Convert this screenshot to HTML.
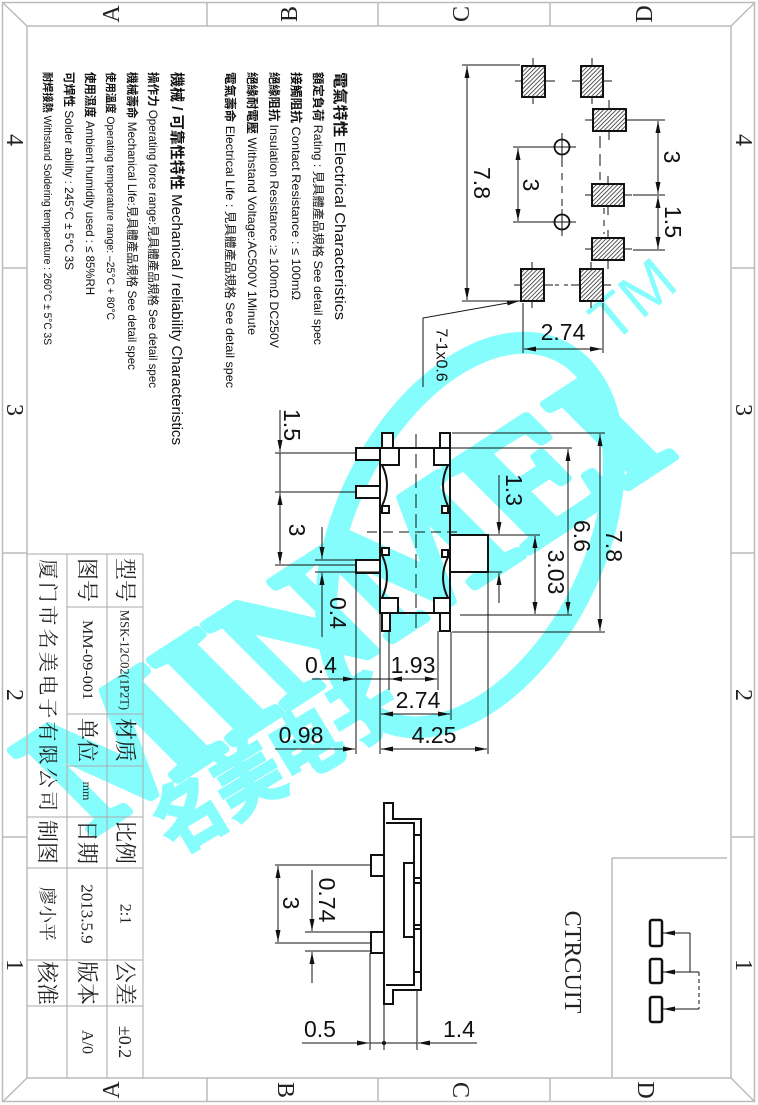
<!DOCTYPE html>
<html><head><meta charset="utf-8"><style>
html,body{margin:0;padding:0;background:#fff}
svg{display:block}
.t{font-family:"Liberation Sans","Noto Sans CJK TC",sans-serif;fill:#111}
.d{font-family:"Liberation Sans",sans-serif;font-size:23px;fill:#111}
.s{font-family:"Liberation Serif","Noto Serif CJK SC",serif;fill:#222}
</style></head><body>
<svg width="758" height="1105" viewBox="0 0 758 1105" xmlns="http://www.w3.org/2000/svg">
<defs>
<marker id="a" viewBox="0 0 12 5" refX="12" refY="2.5" markerWidth="12" markerHeight="5" markerUnits="userSpaceOnUse" orient="auto-start-reverse"><path d="M0,0L12,2.5L0,5z" fill="#111"/></marker>
<pattern id="h" width="3" height="3" patternUnits="userSpaceOnUse" patternTransform="rotate(45)"><rect width="3" height="3" fill="#fff"/><line x1="0" y1="0" x2="0" y2="3" stroke="#222" stroke-width="1.5"/></pattern>
</defs>

<!-- watermark -->
<g fill="#86fdfd" stroke="none">
<ellipse cx="470" cy="535" rx="205" ry="125" transform="rotate(-64 470 535)" fill="none" stroke="#86fdfd" stroke-width="22"/>
<text transform="translate(92,835) rotate(-33) skewX(12)" font-family="Liberation Serif,serif" font-weight="bold" font-size="175" textLength="700" lengthAdjust="spacingAndGlyphs" stroke="#86fdfd" stroke-width="9" stroke-linejoin="round">MINMEI</text>
<text transform="translate(175,855) rotate(-31)" font-family="Noto Sans CJK SC,sans-serif" font-weight="bold" font-size="76" textLength="270" lengthAdjust="spacingAndGlyphs" stroke="#86fdfd" stroke-width="3">名美电子</text>
<text transform="translate(612,345) rotate(-40)" font-family="Liberation Sans,sans-serif" font-size="62">TM</text>
</g>

<!-- frame -->
<g fill="none" stroke="#bbb" stroke-width="1.5">
<rect x="2.5" y="2.5" width="752" height="1099"/>
<rect x="27" y="26" width="704" height="1052"/>
<line x1="2.5" y1="2.5" x2="27" y2="26"/><line x1="755" y1="2.5" x2="731" y2="26"/>
<line x1="2.5" y1="1102" x2="27" y2="1078"/><line x1="755" y1="1102" x2="731" y2="1078"/>
<line x1="207" y1="2.5" x2="207" y2="26"/><line x1="378" y1="2.5" x2="378" y2="26"/><line x1="550" y1="2.5" x2="550" y2="26"/>
<line x1="207" y1="1078" x2="207" y2="1102"/><line x1="378" y1="1078" x2="378" y2="1102"/><line x1="550" y1="1078" x2="550" y2="1102"/>
<line x1="2.5" y1="268" x2="27" y2="268"/><line x1="2.5" y1="553" x2="27" y2="553"/><line x1="2.5" y1="837" x2="27" y2="837"/>
<line x1="731" y1="268" x2="755" y2="268"/><line x1="731" y1="553" x2="755" y2="553"/><line x1="731" y1="837" x2="755" y2="837"/>
</g>
<g class="s" font-size="24" text-anchor="middle" dominant-baseline="central">
<text transform="translate(112,14) rotate(-90)">A</text>
<text transform="translate(290,14) rotate(-90)">B</text>
<text transform="translate(462,14) rotate(-90)">C</text>
<text transform="translate(645,14) rotate(-90)">D</text>
<text transform="translate(112,1090) rotate(-90)">A</text>
<text transform="translate(285,1090) rotate(90)">B</text>
<text transform="translate(460,1090) rotate(90)">C</text>
<text transform="translate(645,1090) rotate(90)">D</text>
<text transform="translate(14,140) rotate(90)">4</text>
<text transform="translate(14,410) rotate(90)">3</text>
<text transform="translate(14,695) rotate(90)">2</text>
<text transform="translate(14,965) rotate(90)">1</text>
<text transform="translate(743,140) rotate(90)">4</text>
<text transform="translate(743,410) rotate(90)">3</text>
<text transform="translate(743,695) rotate(90)">2</text>
<text transform="translate(743,965) rotate(90)">1</text>
</g>

<!-- spec text -->
<g class="t">
<text transform="translate(335,72) rotate(90)" font-size="15" textLength="248" lengthAdjust="spacingAndGlyphs"><tspan font-weight="bold">電氣特性</tspan> Electrical Characteristics</text>
<text transform="translate(314,72) rotate(90)" font-size="12" textLength="273" lengthAdjust="spacingAndGlyphs"><tspan font-weight="bold">額定負荷</tspan> Rating : 見具體產品規格 See detail spec</text>
<text transform="translate(292,72) rotate(90)" font-size="12" textLength="228" lengthAdjust="spacingAndGlyphs"><tspan font-weight="bold">接觸阻抗</tspan> Contact Resistance : ≤ 100mΩ</text>
<text transform="translate(270,72) rotate(90)" font-size="12" textLength="276" lengthAdjust="spacingAndGlyphs"><tspan font-weight="bold">絕緣阻抗</tspan> Insulation Resistance :≥ 100mΩ DC250V</text>
<text transform="translate(248,72) rotate(90)" font-size="12" textLength="263" lengthAdjust="spacingAndGlyphs"><tspan font-weight="bold">絕緣耐電壓</tspan> Withstand Voltage:AC500V 1Minute</text>
<text transform="translate(226,72) rotate(90)" font-size="12" textLength="316" lengthAdjust="spacingAndGlyphs"><tspan font-weight="bold">電氣壽命</tspan> Electrical Life : 見具體產品規格 See detail spec</text>
<text transform="translate(172,72) rotate(90)" font-size="15" textLength="373" lengthAdjust="spacingAndGlyphs"><tspan font-weight="bold">機械 / 可靠性特性</tspan> Mechanical / reliability Characteristics</text>
<text transform="translate(149,72) rotate(90)" font-size="12" textLength="316" lengthAdjust="spacingAndGlyphs"><tspan font-weight="bold">操作力</tspan> Operating force range:見具體產品規格 See detail spec</text>
<text transform="translate(128,72) rotate(90)" font-size="12" textLength="298" lengthAdjust="spacingAndGlyphs"><tspan font-weight="bold">機械壽命</tspan> Mechanical Life:見具體產品規格 See detail spec</text>
<text transform="translate(107,72) rotate(90)" font-size="11" textLength="248" lengthAdjust="spacingAndGlyphs"><tspan font-weight="bold">使用溫度</tspan> Operating temperature range: –25°C + 80°C</text>
<text transform="translate(86,72) rotate(90)" font-size="12" textLength="223" lengthAdjust="spacingAndGlyphs"><tspan font-weight="bold">使用濕度</tspan> Ambient humidity used : ≤ 85%RH</text>
<text transform="translate(65,72) rotate(90)" font-size="12" textLength="198" lengthAdjust="spacingAndGlyphs"><tspan font-weight="bold">可焊性</tspan> Solder ability : 245°C ± 5°C 3S</text>
<text transform="translate(44,72) rotate(90)" font-size="11" textLength="273" lengthAdjust="spacingAndGlyphs"><tspan font-weight="bold">耐焊接熱</tspan> Withstand Soldering temperature : 260°C ± 5°C 3S</text>
</g>

<!-- title block -->
<g stroke="#aaa" stroke-width="1" fill="none">
<line x1="143" y1="554" x2="143" y2="1078"/>
<line x1="107" y1="554" x2="107" y2="1078"/>
<line x1="67" y1="554" x2="67" y2="1078"/>
<line x1="27" y1="554" x2="143" y2="554"/>
<line x1="67" y1="607" x2="143" y2="607"/>
<line x1="67" y1="714" x2="143" y2="714"/>
<line x1="67" y1="766" x2="143" y2="766"/>
<line x1="27" y1="817" x2="143" y2="817"/>
<line x1="27" y1="868" x2="143" y2="868"/>
<line x1="27" y1="960" x2="143" y2="960"/>
<line x1="27" y1="1006" x2="143" y2="1006"/>
</g>
<g class="s" text-anchor="middle" dominant-baseline="central" font-size="22">
<text transform="translate(125,580) rotate(90)">型号</text>
<text transform="translate(125,660) rotate(90)" font-size="13" textLength="100" lengthAdjust="spacingAndGlyphs">MSK-12C02(1P2T)</text>
<text transform="translate(125,740) rotate(90)">材质</text>
<text transform="translate(125,842) rotate(90)">比例</text>
<text transform="translate(125,914) rotate(90)" font-size="16">2:1</text>
<text transform="translate(125,983) rotate(90)">公差</text>
<text transform="translate(125,1042) rotate(90)" font-size="18">±0.2</text>
<text transform="translate(87,580) rotate(90)">图号</text>
<text transform="translate(87,660) rotate(90)" font-size="15" textLength="80" lengthAdjust="spacingAndGlyphs">MM-09-001</text>
<text transform="translate(87,740) rotate(90)">单位</text>
<text transform="translate(87,791) rotate(90)" font-size="12">mm</text>
<text transform="translate(87,842) rotate(90)">日期</text>
<text transform="translate(87,914) rotate(90)" font-size="17">2013.5.9</text>
<text transform="translate(87,983) rotate(90)">版本</text>
<text transform="translate(87,1042) rotate(90)" font-size="16">A/0</text>
<text transform="translate(47,685) rotate(90)" font-size="20" textLength="252" lengthAdjust="spacing">厦门市名美电子有限公司</text>
<text transform="translate(47,842) rotate(90)">制图</text>
<text transform="translate(47,914) rotate(90)" font-size="18">廖小平</text>
<text transform="translate(47,983) rotate(90)">核准</text>
</g>

<!-- footprint -->
<g stroke="#111" stroke-width="1">
<line x1="515" y1="81" x2="555" y2="81"/><line x1="533" y1="58" x2="533" y2="104"/>
<line x1="572" y1="81" x2="612" y2="81"/><line x1="592" y1="58" x2="592" y2="104"/>
<line x1="585" y1="120" x2="634" y2="120"/><line x1="609" y1="100" x2="609" y2="140"/>
<line x1="585" y1="195" x2="632" y2="195"/><line x1="608" y1="176" x2="608" y2="215"/>
<line x1="585" y1="249" x2="632" y2="249"/><line x1="608" y1="230" x2="608" y2="269"/>
<line x1="514" y1="285" x2="553" y2="285"/><line x1="532" y1="262" x2="532" y2="308"/>
<line x1="571" y1="285" x2="611" y2="285"/><line x1="591" y1="262" x2="591" y2="308"/>
<circle cx="562" cy="147" r="7.5" fill="none" stroke-width="1.8"/><line x1="548" y1="147" x2="576" y2="147"/><line x1="562" y1="133" x2="562" y2="160"/>
<circle cx="562" cy="222" r="7.5" fill="none" stroke-width="1.8"/><line x1="548" y1="222" x2="576" y2="222"/><line x1="562" y1="209" x2="562" y2="236"/>
<line x1="562" y1="160" x2="562" y2="209" stroke-dasharray="7,6"/>
<line x1="600" y1="136" x2="600" y2="180" stroke-dasharray="12,6"/>
<line x1="604" y1="208" x2="604" y2="234" stroke-dasharray="6,6"/>
<line x1="555" y1="285" x2="570" y2="285" stroke-dasharray="4,5"/>
</g>
<g fill="url(#h)" stroke="#111" stroke-width="2">
<rect x="522" y="66" width="23" height="31"/>
<rect x="581" y="66" width="22" height="31"/>
<rect x="593" y="109" width="33" height="22"/>
<rect x="592" y="184" width="32" height="22"/>
<rect x="592" y="238" width="32" height="22"/>
<rect x="521" y="269" width="23" height="32"/>
<rect x="580" y="269" width="23" height="32"/>
</g>
<g stroke="#111" stroke-width="1" fill="none">
<line x1="462" y1="65" x2="520" y2="65"/><line x1="462" y1="301" x2="520" y2="301"/>
<line x1="467" y1="66" x2="467" y2="300" marker-start="url(#a)" marker-end="url(#a)"/>
<line x1="513" y1="147" x2="550" y2="147"/><line x1="513" y1="222" x2="550" y2="222"/>
<line x1="518" y1="148" x2="518" y2="221" marker-start="url(#a)" marker-end="url(#a)"/>
<line x1="633" y1="120" x2="665" y2="120"/><line x1="633" y1="195" x2="665" y2="195"/><line x1="633" y1="250" x2="665" y2="250"/>
<line x1="658" y1="121" x2="658" y2="194" marker-start="url(#a)" marker-end="url(#a)"/>
<line x1="658" y1="196" x2="658" y2="249" marker-start="url(#a)" marker-end="url(#a)"/>
<line x1="523" y1="303" x2="523" y2="353"/><line x1="603" y1="303" x2="603" y2="353"/>
<line x1="524" y1="349" x2="602" y2="349" marker-start="url(#a)" marker-end="url(#a)"/>
<polyline points="423,387 423,318 519,301" marker-end="url(#a)"/>
</g>
<g class="d" text-anchor="middle" dominant-baseline="central">
<text transform="translate(482,183) rotate(90)">7.8</text>
<text transform="translate(531,185) rotate(90)">3</text>
<text transform="translate(672,157) rotate(90)">3</text>
<text transform="translate(673,222) rotate(90)">1.5</text>
<text transform="translate(441,355) rotate(90)" font-size="16">7-1x0.6</text>
</g>
<text class="d" x="563" y="340" text-anchor="middle">2.74</text>

<!-- main top view -->
<g stroke="#111" stroke-width="2" fill="#fff">
<rect x="382" y="433" width="11" height="15"/>
<rect x="440" y="433" width="10" height="15"/>
<rect x="382" y="613" width="8" height="18"/>
<rect x="440" y="613" width="10" height="18"/>
<rect x="356" y="448" width="24" height="12"/>
<rect x="356" y="486" width="24" height="12"/>
<rect x="356" y="560" width="24" height="13"/>
<rect x="450" y="535" width="38" height="37"/>
<rect x="380" y="448" width="70" height="165" fill="none"/>
<rect x="380" y="448" width="19" height="17"/>
<rect x="434" y="448" width="16" height="17"/>
<rect x="380" y="598" width="18" height="15"/>
<rect x="434" y="598" width="16" height="15"/>
<rect x="382" y="506" width="7" height="7"/>
<rect x="382" y="548" width="7" height="7"/>
<rect x="442" y="506" width="6" height="7"/>
<rect x="442" y="550" width="6" height="7"/>
<path d="M382,465 Q392,485 382,506" fill="none"/>
<path d="M382,555 Q392,576 382,598" fill="none"/>
<path d="M448,465 Q438,485 448,506" fill="none"/>
<path d="M448,557 Q438,578 448,598" fill="none"/>
</g>
<g stroke="#111" stroke-width="1" fill="none">
<line x1="416" y1="434" x2="416" y2="632" stroke-dasharray="14,6"/>
<line x1="367" y1="532" x2="458" y2="532" stroke-dasharray="10,6"/>
<line x1="275" y1="453" x2="356" y2="453"/><line x1="275" y1="492" x2="356" y2="492"/><line x1="275" y1="565" x2="356" y2="565"/>
<line x1="280" y1="410" x2="280" y2="452" marker-end="url(#a)"/>
<line x1="280" y1="493" x2="280" y2="564" marker-start="url(#a)" marker-end="url(#a)"/>
<line x1="280" y1="453" x2="280" y2="492"/>
<line x1="315" y1="560" x2="380" y2="560"/><line x1="315" y1="572" x2="380" y2="572"/>
<line x1="322" y1="527" x2="322" y2="559" marker-end="url(#a)"/>
<line x1="322" y1="637" x2="322" y2="573" marker-end="url(#a)"/>
<line x1="452" y1="433" x2="605" y2="433"/><line x1="452" y1="632" x2="605" y2="632"/>
<line x1="600" y1="434" x2="600" y2="631" marker-start="url(#a)" marker-end="url(#a)"/>
<line x1="450" y1="448" x2="572" y2="448"/><line x1="460" y1="615" x2="572" y2="615"/>
<line x1="568" y1="449" x2="568" y2="614" marker-start="url(#a)" marker-end="url(#a)"/>
<line x1="488" y1="535" x2="540" y2="535"/><line x1="488" y1="572" x2="502" y2="572"/>
<line x1="499" y1="475" x2="499" y2="534" marker-end="url(#a)"/>
<line x1="499" y1="603" x2="499" y2="573" marker-end="url(#a)"/>
<line x1="535" y1="536" x2="535" y2="614" marker-start="url(#a)" marker-end="url(#a)"/>
<line x1="356" y1="573" x2="356" y2="754"/>
<line x1="389" y1="631" x2="389" y2="690"/>
<line x1="438" y1="631" x2="438" y2="690"/>
<line x1="380" y1="613" x2="380" y2="754"/>
<line x1="451" y1="632" x2="451" y2="720"/>
<line x1="488" y1="572" x2="488" y2="754"/>
<line x1="312" y1="679" x2="355" y2="679" marker-end="url(#a)"/>
<line x1="390" y1="679" x2="437" y2="679" marker-start="url(#a)" marker-end="url(#a)"/>
<line x1="356" y1="679" x2="390" y2="679"/>
<line x1="381" y1="714" x2="450" y2="714" marker-start="url(#a)" marker-end="url(#a)"/>
<line x1="275" y1="749" x2="355" y2="749" marker-end="url(#a)"/>
<line x1="381" y1="749" x2="487" y2="749" marker-start="url(#a)" marker-end="url(#a)"/>
</g>
<g class="d" text-anchor="middle" dominant-baseline="central">
<text transform="translate(292,425) rotate(90)">1.5</text>
<text transform="translate(297,530) rotate(90)">3</text>
<text transform="translate(338,613) rotate(90)">0.4</text>
<text transform="translate(514,490) rotate(90)">1.3</text>
<text transform="translate(556,572) rotate(90)">3.03</text>
<text transform="translate(582,536) rotate(90)">6.6</text>
<text transform="translate(614,546) rotate(90)">7.8</text>
</g>
<g class="d" text-anchor="middle">
<text x="321" y="673">0.4</text>
<text x="413" y="673">1.93</text>
<text x="418" y="708">2.74</text>
<text x="301" y="743">0.98</text>
<text x="434" y="743">4.25</text>
</g>

<!-- side view -->
<g stroke="#111" stroke-width="2" fill="none">
<polygon points="384,803 393,803 393,819 421,819 421,990 393,990 393,1004 384,1004"/>
<polyline points="386,823 414,823 414,985 386,985"/>
<line x1="414" y1="835" x2="421" y2="835"/>
<line x1="414" y1="878" x2="421" y2="878"/><line x1="414" y1="883" x2="421" y2="883"/>
<line x1="414" y1="925" x2="421" y2="925"/><line x1="414" y1="929" x2="421" y2="929"/>
<line x1="414" y1="972" x2="421" y2="972"/>
<rect x="404" y="863" width="10" height="74"/>
<rect x="371" y="855" width="13" height="21" fill="#fff"/>
<rect x="371" y="932" width="13" height="21" fill="#fff"/>
</g>
<g stroke="#111" stroke-width="1" fill="none">
<line x1="275" y1="865" x2="371" y2="865"/><line x1="275" y1="943" x2="371" y2="943"/>
<line x1="278" y1="866" x2="278" y2="942" marker-start="url(#a)" marker-end="url(#a)"/>
<line x1="305" y1="932" x2="371" y2="932"/><line x1="305" y1="951" x2="371" y2="951"/>
<line x1="312" y1="870" x2="312" y2="931" marker-end="url(#a)"/>
<line x1="312" y1="983" x2="312" y2="952" marker-end="url(#a)"/>
<line x1="370" y1="953" x2="370" y2="1050"/>
<line x1="384" y1="1004" x2="384" y2="1050"/>
<line x1="417" y1="990" x2="417" y2="1050"/>
<line x1="302" y1="1043" x2="369" y2="1043" marker-end="url(#a)"/>
<line x1="370" y1="1043" x2="417" y2="1043"/>
<line x1="477" y1="1043" x2="418" y2="1043" marker-end="url(#a)"/>
</g>
<circle cx="384" cy="1043" r="2" fill="#111"/>
<g class="d" text-anchor="middle" dominant-baseline="central">
<text transform="translate(291,903) rotate(90)">3</text>
<text transform="translate(327,900) rotate(90)">0.74</text>
</g>
<g class="d" text-anchor="middle">
<text x="320" y="1037">0.5</text>
<text x="459" y="1037">1.4</text>
</g>

<!-- circuit -->
<g stroke="#999" stroke-width="1" fill="none">
<line x1="612" y1="858" x2="727" y2="858"/>
<line x1="612" y1="858" x2="612" y2="1077"/>
</g>
<text class="s" transform="translate(572,962) rotate(90)" font-size="24" text-anchor="middle" dominant-baseline="central">CTRCUIT</text>
<g stroke="#111" stroke-width="2.5" fill="none">
<rect x="650" y="920" width="12" height="26" rx="2"/>
<rect x="650" y="959" width="12" height="24" rx="2"/>
<rect x="650" y="997" width="12" height="25" rx="2"/>
</g>
<g stroke="#111" stroke-width="1" fill="none">
<line x1="690" y1="933" x2="663" y2="933" marker-end="url(#a)"/>
<line x1="699" y1="972" x2="663" y2="972" marker-end="url(#a)"/>
<line x1="699" y1="1009" x2="663" y2="1009" marker-end="url(#a)"/>
<line x1="690" y1="933" x2="690" y2="972"/>
<line x1="699" y1="972" x2="699" y2="1009" stroke-dasharray="4,3"/>
</g>
</svg>
</body></html>
